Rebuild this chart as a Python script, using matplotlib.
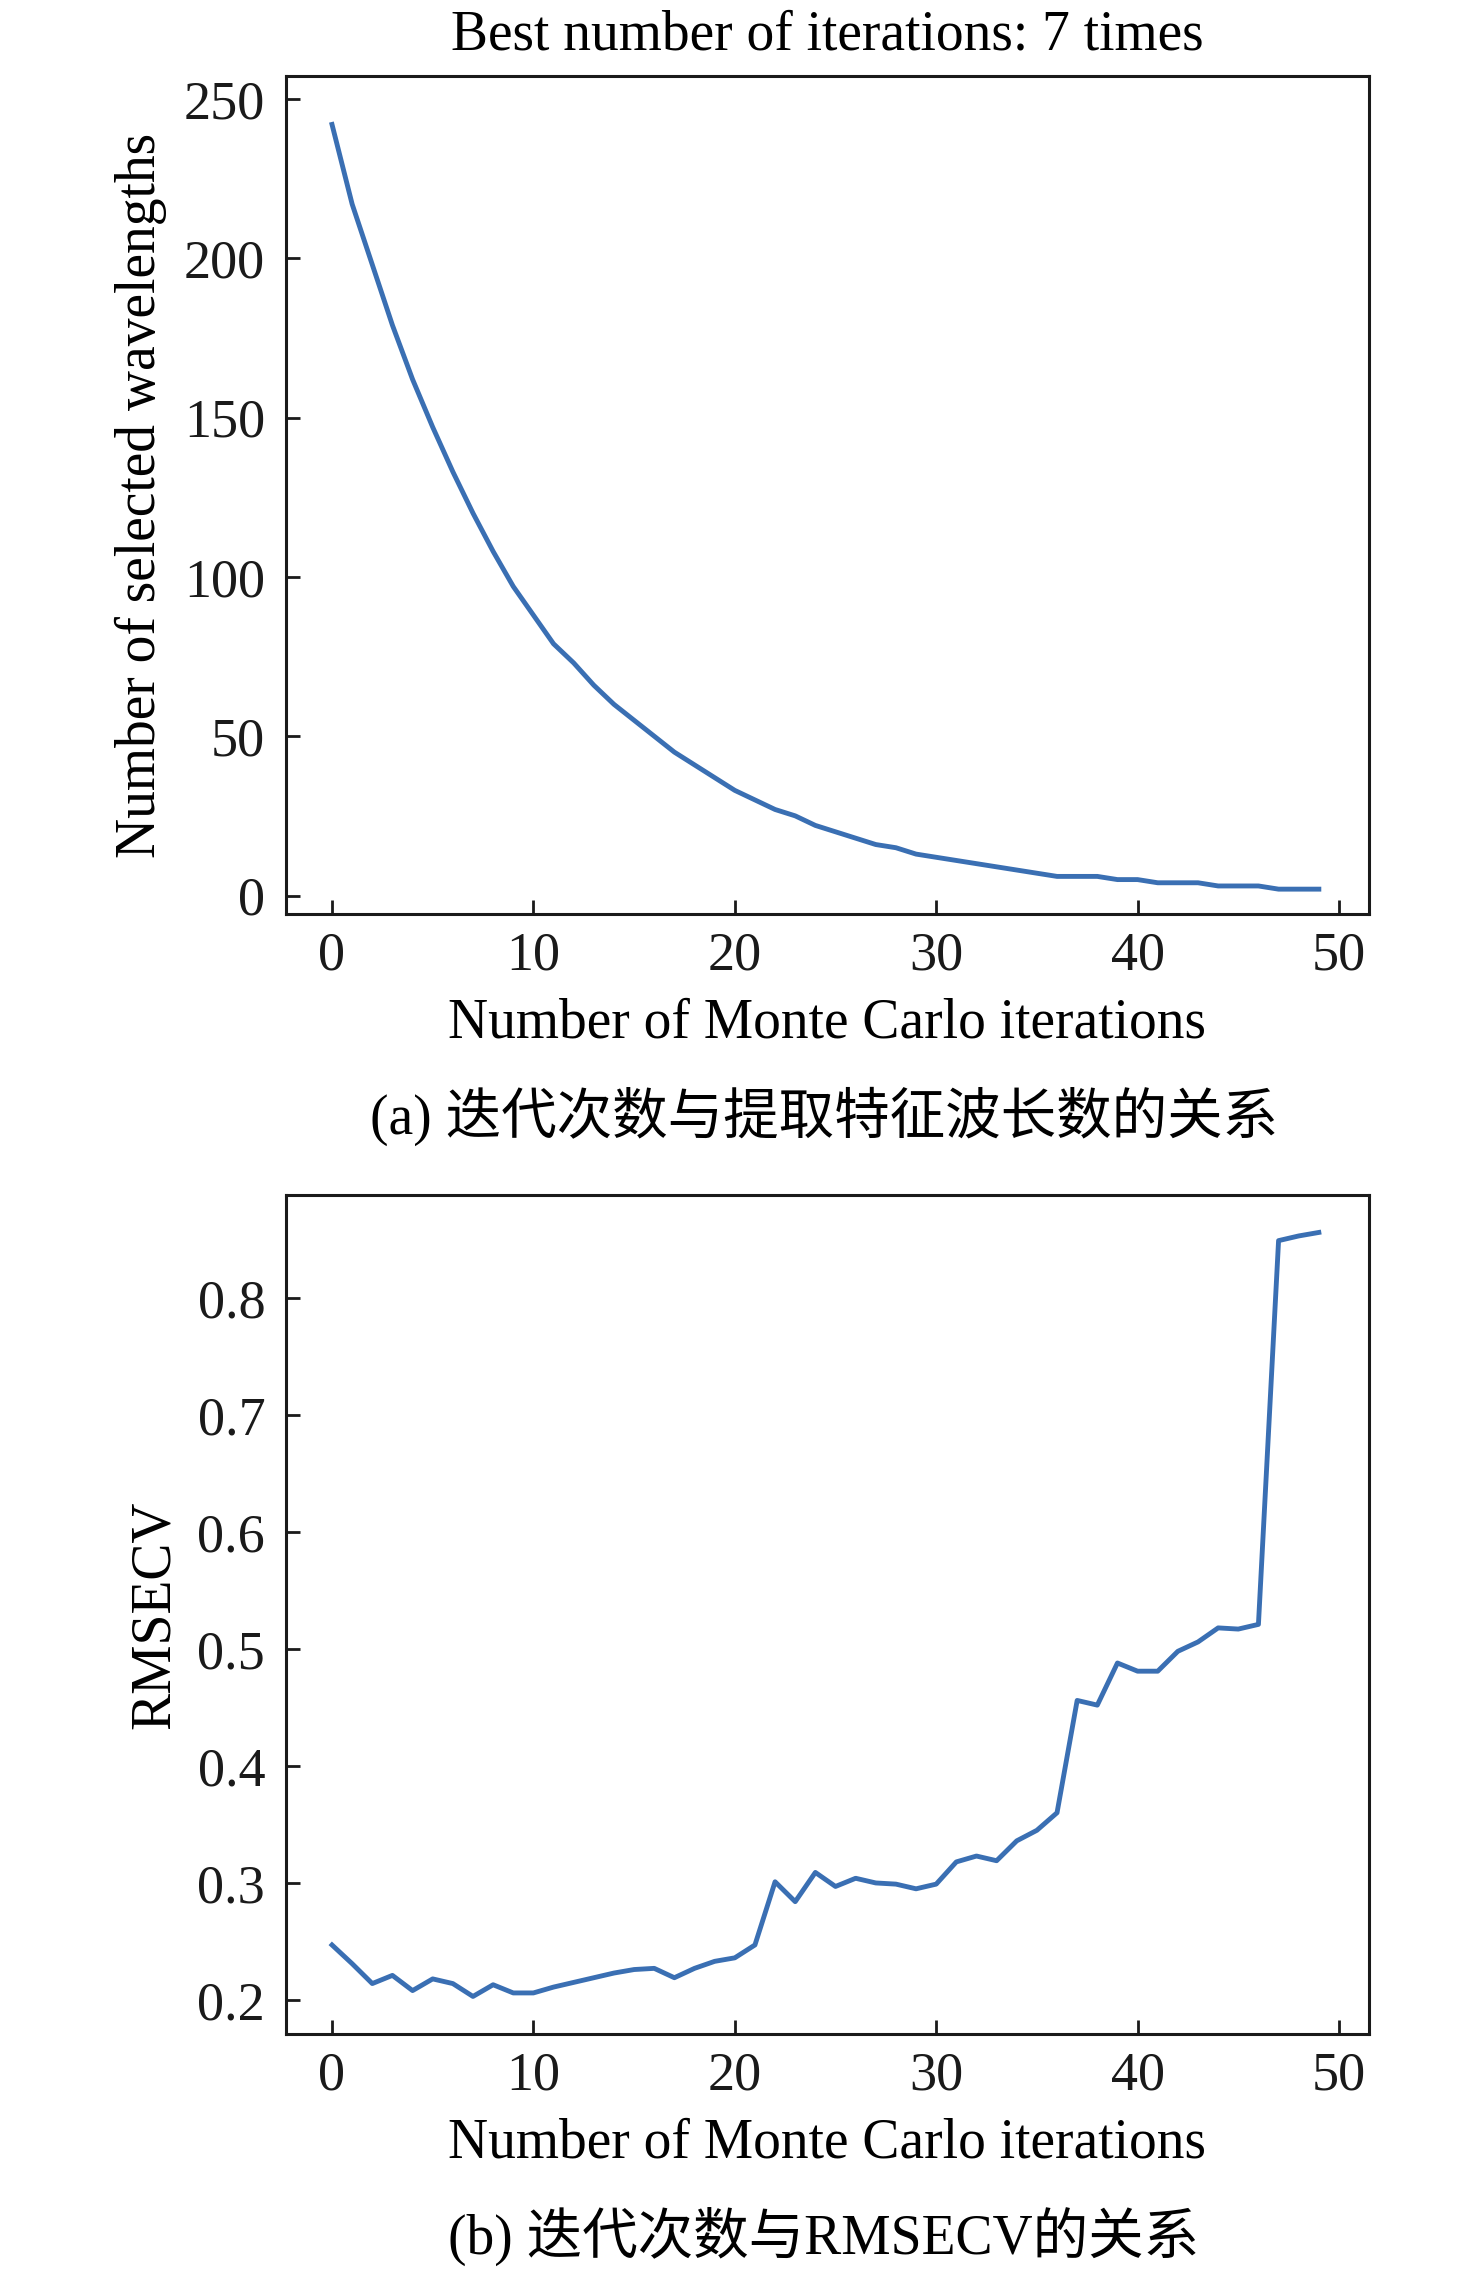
import matplotlib
matplotlib.use("Agg")
import matplotlib.pyplot as plt

# ---- data ----
iterations = list(range(50))
n_wavelengths = [242, 217, 198, 179, 162, 147, 133, 120, 108, 97,
                 88, 79, 73, 66, 60, 55, 50, 45, 41, 37,
                 33, 30, 27, 25, 22, 20, 18, 16, 15, 13,
                 12, 11, 10, 9, 8, 7, 6, 6, 6, 5,
                 5, 4, 4, 4, 3, 3, 3, 2, 2, 2]
rmsecv = [0.247, 0.231, 0.214, 0.221, 0.208, 0.218, 0.214, 0.203, 0.213, 0.206,
          0.206, 0.211, 0.215, 0.219, 0.223, 0.226, 0.227, 0.219, 0.227, 0.233,
          0.236, 0.247, 0.301, 0.284, 0.309, 0.297, 0.304, 0.300, 0.299, 0.295,
          0.299, 0.318, 0.323, 0.319, 0.336, 0.345, 0.360, 0.456, 0.452, 0.488,
          0.481, 0.481, 0.498, 0.506, 0.518, 0.517, 0.521, 0.849, 0.853, 0.856]
xticks = [0, 10, 20, 30, 40, 50]
yticks_a = [0, 50, 100, 150, 200, 250]
yticks_b = [0.2, 0.3, 0.4, 0.5, 0.6, 0.7, 0.8]
yticklabels_b = ["0.2", "0.3", "0.4", "0.5", "0.6", "0.7", "0.8"]

title_a = "Best number of iterations: 7 times"
xlabel = "Number of Monte Carlo iterations"
ylabel_a = "Number of selected wavelengths"
ylabel_b = "RMSECV"
caption_a = "(a) 迭代次数与提取特征波长数的关系"
caption_b = "(b) 迭代次数与RMSECV的关系"

FONTS = ["Liberation Serif", "Noto Sans CJK SC", "DejaVu Sans"]
plt.rcParams["font.family"] = FONTS

W, H = 1476, 2272
fig = plt.figure(figsize=(W / 100, H / 100), dpi=100)

line_color = "#3a6fb3"
TICK_FS = 39
LABEL_FS = 40

def style(ax):
    for s in ax.spines.values():
        s.set_linewidth(2.2)
        s.set_color("#1a1a1a")
    ax.tick_params(axis="y", direction="in", length=10, width=2, right=False,
                   labelsize=TICK_FS, pad=15, colors="#1a1a1a")
    ax.tick_params(axis="x", direction="in", length=10, width=2, top=False,
                   labelsize=TICK_FS, pad=12, colors="#1a1a1a")

L, R = 286, 1369
ax1 = fig.add_axes([L / W, 1 - 914 / H, (R - L) / W, (914 - 76) / H])
ax1.plot(iterations, n_wavelengths, color=line_color, lw=3.5)
ax1.set_xlim(-2.284, 51.49)
ax1.set_ylim(-5.8, 257.2)
ax1.set_xticks(xticks)
ax1.set_yticks(yticks_a)
style(ax1)
ax1.set_title(title_a, fontsize=LABEL_FS, pad=19)
ax1.set_xlabel(xlabel, fontsize=LABEL_FS, labelpad=12)
ax1.set_ylabel(ylabel_a, fontsize=LABEL_FS, labelpad=12)

ax2 = fig.add_axes([L / W, 1 - 2034 / H, (R - L) / W, (2034 - 1195) / H])
ax2.plot(iterations, rmsecv, color=line_color, lw=3.5)
ax2.set_xlim(-2.284, 51.49)
ax2.set_ylim(0.1709, 0.888)
ax2.set_xticks(xticks)
ax2.set_yticks(yticks_b)
ax2.set_yticklabels(yticklabels_b)
style(ax2)
ax2.set_xlabel(xlabel, fontsize=LABEL_FS, labelpad=12)
ax2.set_ylabel(ylabel_b, fontsize=LABEL_FS, labelpad=12)

fig.text(824 / W, 1 - 1116 / H, caption_a, ha="center", va="center", fontsize=LABEL_FS)
fig.text(824 / W, 1 - 2236 / H, caption_b, ha="center", va="center", fontsize=LABEL_FS)

fig.savefig("out.png", dpi=100, facecolor="white")
